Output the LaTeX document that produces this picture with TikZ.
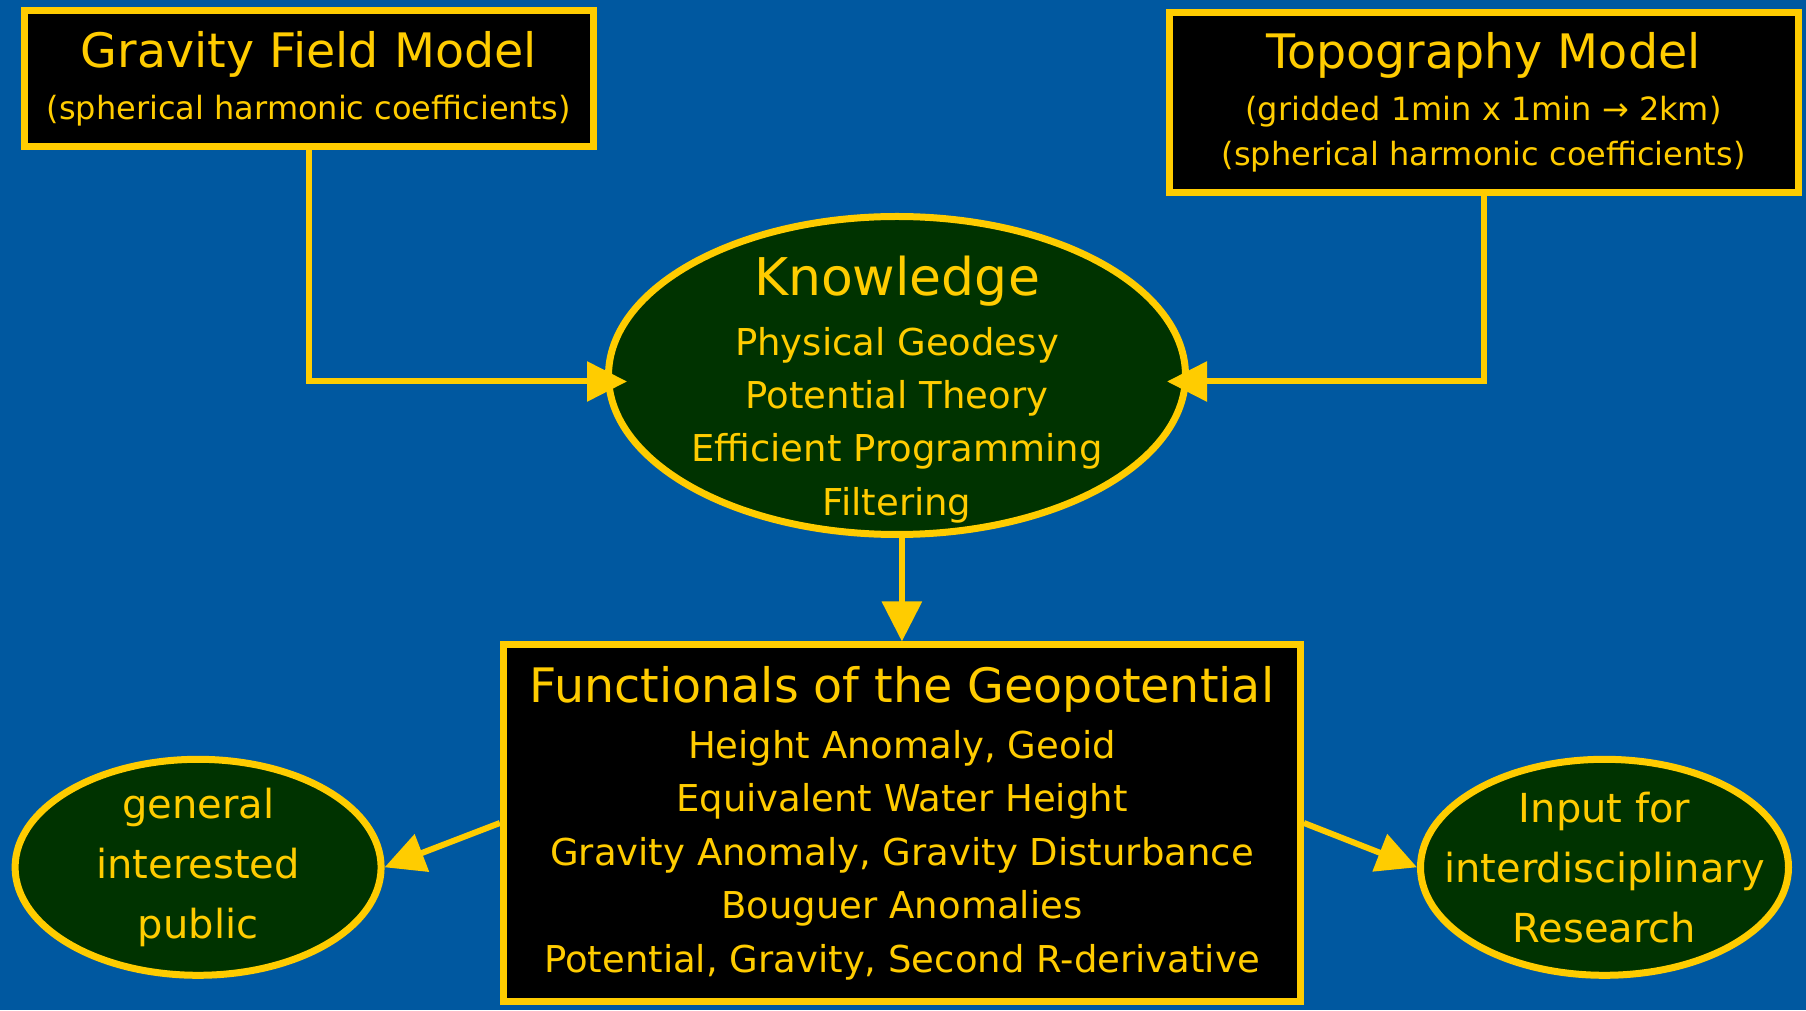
\documentclass[tikz,border=0pt]{standalone}
\usepackage{fontspec}
\setmainfont{DejaVu Sans}
\usetikzlibrary{arrows.meta,positioning,shapes.geometric,calc}
\definecolor{slideblue}{RGB}{0,88,160}
\definecolor{gold}{RGB}{255,204,0}
\definecolor{deepgreen}{RGB}{0,51,0}
\tikzset{
  post/.style={->,>={Triangle[length=40pt,width=39pt]},draw=gold,line width=6pt},
}
\newcommand{\headsize}{\fontsize{47.5}{53}\selectfont}

\begin{document}
\begin{tikzpicture}[x=1pt,y=1pt,
    modelbox/.style={draw=gold,fill=black,line width=7pt,text=gold,align=center,inner sep=0pt},
    bubble/.style={ellipse,draw=gold,fill=deepgreen,line width=7pt,inner sep=0pt},
    bubbletext/.style={text=gold,align=center},]
  \fill[slideblue] (0,0) rectangle (1806,1010);
  \useasboundingbox (0,0) rectangle (1806,1010);

  % input models
  \node[modelbox, minimum width=569pt, minimum height=136pt,
    font=\fontsize{32}{45}\selectfont] (grav) at (308.7,931.7)
    {{\headsize Gravity Field Model}\\[7pt] (spherical harmonic coefficients)};
  \node[modelbox, minimum width=629pt, minimum height=180pt,
    font=\fontsize{32}{45}\selectfont] (topo) at (1483.5,907.5)
    {{\headsize Topography Model}\\[7pt] (gridded 1min x 1min → 2km)\\
     (spherical harmonic coefficients)};

  % knowledge
  \node[bubble, minimum width=577pt, minimum height=318pt] (know) at (897,634.5) {};
  \node[bubbletext, font=\fontsize{37}{53.3}\selectfont] (knowtxt) at ([yshift=-14pt]know.center)
    {{\fontsize{52}{58}\selectfont Knowledge}\\[6pt] Physical Geodesy\\ Potential Theory\\
     Efficient Programming\\ Filtering};

  % results
  \node[modelbox, minimum width=797pt, minimum height=356pt,
    font=\fontsize{37}{53.5}\selectfont] (func) at (901.9,187)
    {{\headsize Functionals of the Geopotential}\\[2.5pt] Height Anomaly, Geoid\\
     Equivalent Water Height\\ Gravity Anomaly, Gravity Disturbance\\
     Bouguer Anomalies\\ Potential, Gravity, Second R-derivative};

  \node[bubble, minimum width=366pt, minimum height=216pt] (pub) at (198.1,142.7) {};
  \node[bubbletext, font=\fontsize{40}{60}\selectfont] (pubtxt) at (pub.center)
    {general\\ interested\\ public};
  \node[bubble, minimum width=368pt, minimum height=216pt] (res) at (1604.5,142.7) {};
  \node[bubbletext, font=\fontsize{40}{60}\selectfont] (restxt) at (res.center)
    {Input for\\ interdisciplinary\\ Research};

  \draw[post, shorten >=-22pt] (grav.south) |- ([yshift=-6pt]know.west);
  \draw[post, shorten >=-22pt] (topo.south) |- ([yshift=-6pt]know.east);
  \draw[post] (func.north |- know.south) -- (func.north);
  \draw[post] (func.west) -- (pub.east);
  \draw[post] (func.east) -- (res.west);
\end{tikzpicture}
\end{document}
